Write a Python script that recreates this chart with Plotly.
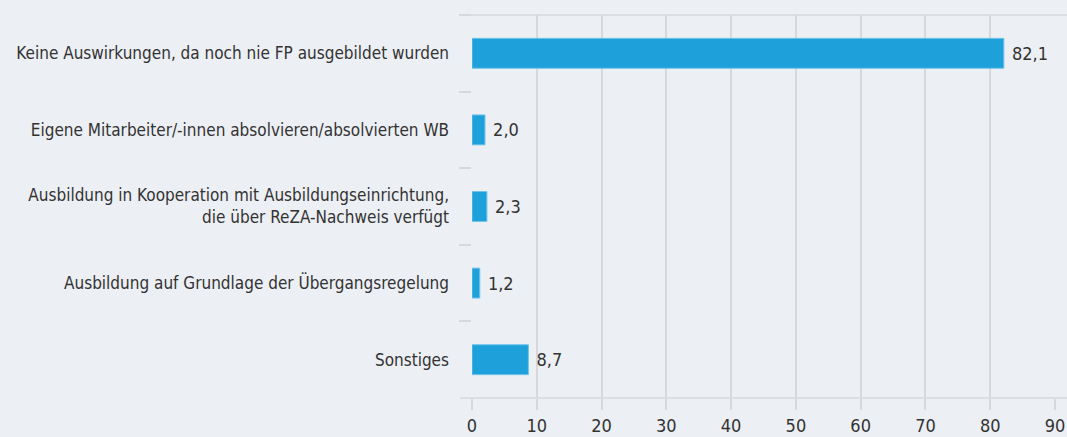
import plotly.graph_objects as go

# Werte aus der Abbildung (Anteile in %)
kategorien = [
    "Keine Auswirkungen, da noch nie FP ausgebildet wurden",
    "Eigene Mitarbeiter/-innen absolvieren/absolvierten WB",
    "Ausbildung in Kooperation mit Ausbildungseinrichtung,<br>die über ReZA-Nachweis verfügt",
    "Ausbildung auf Grundlage der Übergangsregelung",
    "Sonstiges",
]
werte = [82.1, 2.0, 2.3, 1.2, 8.7]
x_ticks = [0, 10, 20, 30, 40, 50, 60, 70, 80, 90]

bg = "#eceff3"
grid = "#d6d8dc"
blau = "#1ea1da"
schrift = "DejaVu Sans Condensed, Liberation Sans Narrow, sans-serif"

fig = go.Figure(go.Bar(
    x=werte,
    y=kategorien,
    orientation="h",
    width=0.39,
    marker=dict(color=blau, line=dict(color="#6cc3ea", width=1)),
    texttemplate=" %{x:.1f}",
    textposition="outside",
    textfont=dict(color="#333333", size=18, family=schrift),
    cliponaxis=False,
))

# Linien oben und unten, die über den Plotbereich hinausreichen
links, rechts = 472, 1055
breite = rechts - links
for y in (0, 1):
    fig.add_shape(type="line", xref="paper", yref="paper",
                  x0=-12 / breite, x1=(1067 - links) / breite, y0=y, y1=y,
                  line=dict(color=grid, width=1.5), layer="below")

fig.update_layout(
    width=1067, height=437,
    margin=dict(l=links, r=1067 - rechts, t=15, b=39, autoexpand=False),
    paper_bgcolor=bg, plot_bgcolor=bg,
    separators=",.",
    showlegend=False,
    font=dict(family=schrift, size=17, color="#333333"),
)
fig.update_xaxes(
    range=[0, 90], tickvals=x_ticks,
    showgrid=True, gridcolor=grid, gridwidth=1.5,
    ticks="outside", ticklen=11, tickcolor=grid, tickwidth=1.5,
    ticklabeloverflow="allow",
    zeroline=False, showline=False,
    tickfont=dict(size=18, color="#333333"),
)
fig.update_yaxes(
    autorange="reversed",
    ticks="outside", tickson="boundaries", ticklen=12, tickcolor=grid, tickwidth=1.5,
    ticklabelstandoff=22,
    showgrid=False, showline=False,
    tickfont=dict(size=17, color="#333333"),
)

fig.write_html("out.html", config={"displayModeBar": False},
               post_script="document.body.style.margin='0';document.body.style.overflow='hidden';")
